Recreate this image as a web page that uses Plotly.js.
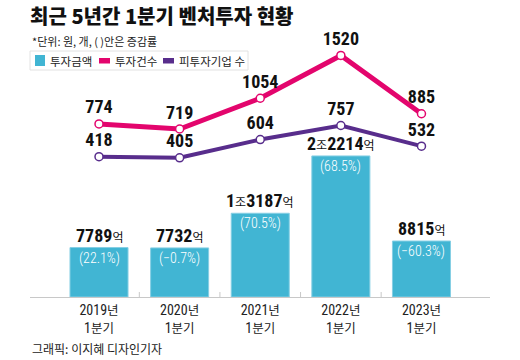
<!DOCTYPE html>
<html>
<head>
<meta charset="utf-8">
<script src="https://cdn.plot.ly/plotly-3.0.1.min.js"></script>
<style>
  html, body { margin: 0; padding: 0; background: #fff; }
  #chart { width: 520px; height: 360px; }
</style>
</head>
<body>
<div id="chart"></div>
<script>
// ---- data ----
const years = ['2019년', '2020년', '2021년', '2022년', '2023년'];
const quarter = '1분기';
const investAmount = [7789, 7732, 13187, 22214, 8815];      // 억 원
const investChange = [22.1, -0.7, 70.5, 68.5, -60.3];        // %
const dealCount = [774, 719, 1054, 1520, 885];               // 건
const companyCount = [418, 405, 604, 757, 532];              // 개
const seriesNames = ['투자금액', '투자건수', '피투자기업 수'];
const titleText = '최근 5년간 1분기 벤처투자 현황';
const unitNote = '*단위: 원, 개, ( )안은 증감률';
const creditText = '그래픽: 이지혜 디자인기자';

// ---- styles ----
const TEAL = '#41b5d3', PINK = '#e3056d', PURPLE = '#582d8c';
const KR = 'Noto Sans CJK KR, Noto Sans, sans-serif';
const NUM = 'Roboto Condensed, Noto Sans CJK KR, sans-serif';
const W = 520, H = 360, ML = 30, MR = 30, MT = 45, MB = 63;
const PW = W - ML - MR, PH = H - MT - MB;
const px = x => (x - ML) / PW;
const py = y => (H - MB - y) / PH;

const xIdx = years.map((_, i) => i);
const krSmall = (s, sz) => '<span style="font-family:Noto Sans CJK KR;font-size:' + sz + 'px">' + s + '</span>';
const splitNum = (s, sz) => s.replace(/(\d+)(.*)/, (m, d, k) => d + krSmall(k, sz));
const tickText = years.map(y => splitNum(y, 12.5) + '<br>' + splitNum(quarter, 12.5));

function amountLabel(v) {
  const jo = Math.floor(v / 10000), rest = v % 10000;
  const small = s => '<span style="font-family:Noto Sans CJK KR;font-size:12px;font-weight:normal">' + s + '</span>';
  return (jo > 0 ? '<b>' + jo + '</b>' + small('조') : '') + '<b>' + rest + '</b>' + small('억');
}
function pctLabel(p) {
  return '(' + (p < 0 ? '−' + Math.abs(p).toFixed(1) : p.toFixed(1)) + '%)';
}

const traces = [
  {
    type: 'bar', x: xIdx, y: investAmount, name: seriesNames[0],
    width: 0.72, marker: { color: TEAL, line: { color: '#86cfe4', width: 1 } },
    hoverinfo: 'skip', showlegend: false
  },
  {
    type: 'scatter', mode: 'lines+markers+text', x: xIdx, y: companyCount, yaxis: 'y2',
    name: seriesNames[2], line: { color: PURPLE, width: 4 },
    marker: { symbol: 'circle', size: 8, color: '#fff', line: { color: PURPLE, width: 1.5 } },
    text: companyCount.map(String), textposition: 'top center',
    textfont: { family: NUM, size: 18, color: '#111', weight: 'bold' },
    cliponaxis: false, showlegend: false, hoverinfo: 'skip'
  },
  {
    type: 'scatter', mode: 'lines+markers+text', x: xIdx, y: dealCount, yaxis: 'y2',
    name: seriesNames[1], line: { color: PINK, width: 5 },
    marker: { symbol: 'circle', size: 8, color: '#fff', line: { color: PINK, width: 1.5 } },
    text: dealCount.map(String), textposition: 'top center',
    textfont: { family: NUM, size: 18, color: '#111', weight: 'bold' },
    cliponaxis: false, showlegend: false, hoverinfo: 'skip'
  }
];

const annotations = [];
xIdx.forEach(i => {
  annotations.push({
    xref: 'x', yref: 'y', x: i, y: investAmount[i], yanchor: 'bottom', xanchor: 'center',
    text: amountLabel(investAmount[i]), showarrow: false, yshift: 0,
    font: { family: NUM, size: 18, color: '#111' }
  });
  annotations.push({
    xref: 'x', yref: 'y', x: i, y: investAmount[i], yanchor: 'top', xanchor: 'center',
    text: pctLabel(investChange[i]), showarrow: false, yshift: 0,
    font: { family: NUM, size: 14, color: '#ffffff', weight: 300 }
  });
});
// subtitle / credit
annotations.push({ xref: 'paper', yref: 'paper', x: px(30), y: py(41), xanchor: 'left', yanchor: 'middle',
  text: unitNote, showarrow: false, font: { family: KR, size: 11, color: '#222' } });
annotations.push({ xref: 'paper', yref: 'paper', x: px(30), y: py(348), xanchor: 'left', yanchor: 'middle',
  text: creditText, showarrow: false, font: { family: KR, size: 12, color: '#222' } });

// manual legend
const shapes = [
  { type: 'rect', xref: 'paper', yref: 'paper', x0: px(30), x1: px(248), y0: py(51), y1: py(70),
    line: { color: '#e2e2e2', width: 1 }, fillcolor: '#fff', layer: 'below' },
  { type: 'rect', xref: 'paper', yref: 'paper', x0: px(35), x1: px(45), y0: py(55), y1: py(66),
    line: { width: 0 }, fillcolor: TEAL },
  { type: 'rect', xref: 'paper', yref: 'paper', x0: px(99), x1: px(110), y0: py(58), y1: py(63.5),
    line: { width: 0 }, fillcolor: PINK },
  { type: 'rect', xref: 'paper', yref: 'paper', x0: px(163), x1: px(174), y0: py(58), y1: py(63.5),
    line: { width: 0 }, fillcolor: PURPLE }
];
const legendTextX = [48, 113, 177];
seriesNames.forEach((n, k) => {
  annotations.push({ xref: 'paper', yref: 'paper', x: px(legendTextX[k]), y: py(61), xanchor: 'left', yanchor: 'middle',
    text: n, showarrow: false, font: { family: KR, size: 11.5, color: '#222' } });
});
// tick marks between categories
for (let i = 0; i < years.length - 1; i++) {
  shapes.push({ type: 'line', xref: 'x', yref: 'paper', x0: i + 0.5, x1: i + 0.5, y0: 0, y1: py(292),
    line: { color: '#c8c8c8', width: 1 } });
}

// axis scales
const barScale = 0.00635;   // px per 억
const lineScale = 0.0918;   // px per count
const lineZeroPx = 195;
const yMax = PH / barScale;
const y2Min = -(H - MB - lineZeroPx) / lineScale;
const y2Max = (lineZeroPx - MT) / lineScale;

const layout = {
  width: W, height: H,
  margin: { l: ML, r: MR, t: MT, b: MB, pad: 0 },
  paper_bgcolor: '#fff', plot_bgcolor: '#fff',
  title: { text: titleText, xref: 'container', yref: 'container',
    x: 30 / W, xanchor: 'left', y: 1 - 17 / H, yanchor: 'middle',
    font: { family: KR, size: 20, color: '#111', weight: 900 } },
  xaxis: {
    range: [-0.856, 4.85], tickmode: 'array', tickvals: xIdx, ticktext: tickText,
    showgrid: false, zeroline: false, showline: true, linecolor: '#c8c8c8', linewidth: 1,
    ticks: '', tickfont: { family: NUM, size: 14, color: '#222' }, fixedrange: true
  },
  yaxis: { range: [0, yMax], visible: false, showgrid: false, zeroline: false, fixedrange: true },
  yaxis2: { range: [y2Min, y2Max], overlaying: 'y', visible: false, showgrid: false, zeroline: false, fixedrange: true },
  showlegend: false,
  bargap: 0.28,
  annotations: annotations,
  shapes: shapes
};

Plotly.newPlot('chart', traces, layout, { displayModeBar: false, staticPlot: true });
</script>
</body>
</html>
